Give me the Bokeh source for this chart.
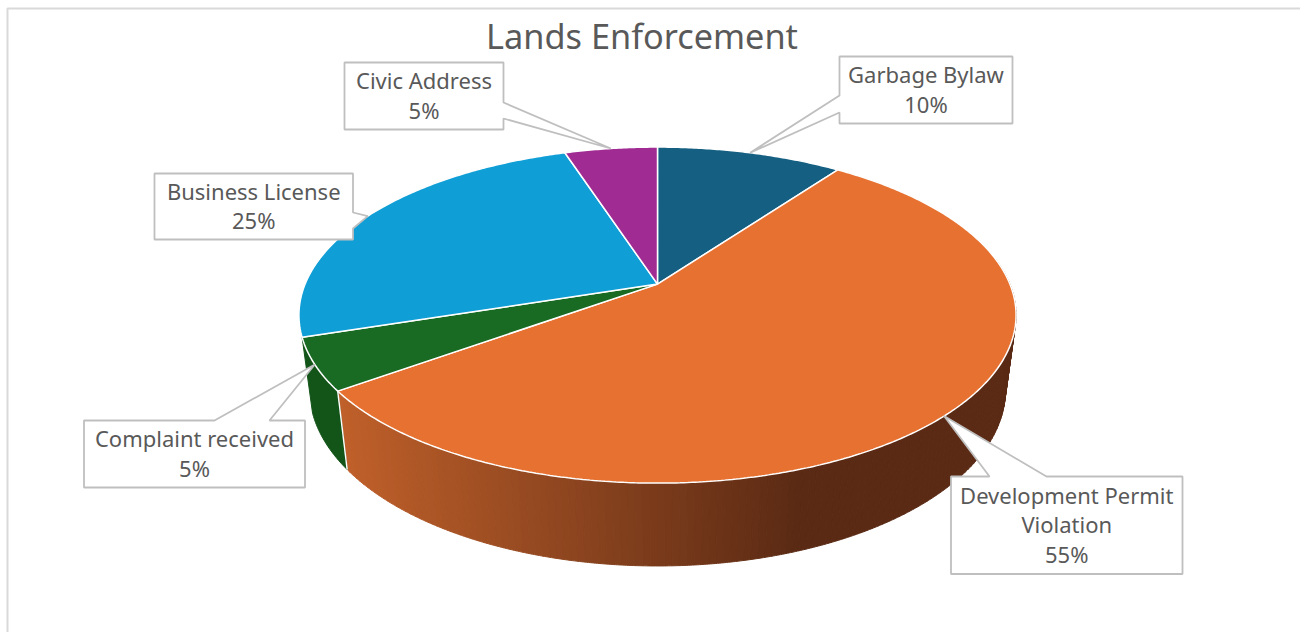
import numpy as np
from bokeh.core.properties import value
from bokeh.embed import file_html
from bokeh.models import Range1d
from bokeh.plotting import figure
from bokeh.resources import INLINE

# Slices, clockwise from twelve o'clock
categories = ["Garbage Bylaw", "Development Permit Violation", "Complaint received", "Business License", "Civic Address"]
shares = [10, 55, 5, 25, 5]
colors = ["#156082", "#E77131", "#196B24", "#0F9ED5", "#A02B93"]
label_lines = [["Garbage Bylaw"], ["Development Permit", "Violation"], ["Complaint received"], ["Business License"], ["Civic Address"]]
title = "Lands Enforcement"

FONT = "Noto Sans"
TEXT = "#595959"
EDGE = "#BFBFBF"

# Perspective disc: apex position, scale and tilt of the top and bottom faces
CX = 657.0
TOP = dict(y0=283.6, a=352.4, b=162.3, k=0.1845)
BOT = dict(y0=357.0, a=342.0, b=170.0, k=0.1845)

# Callout boxes: left, top, right, bottom and the edge the pointer leaves from
boxes = {
    "Garbage Bylaw": (839, 56, 1012, 123, "left", 95, 112),
    "Development Permit Violation": (950.5, 476, 1182, 573.5, "top", 989, 1046),
    "Complaint received": (83.5, 420, 304.5, 487, "top", 214, 269),
    "Business License": (154, 173, 352.5, 239, "right", 212, 228),
    "Civic Address": (344, 62, 503, 129, "right", 102, 118),
}


def project(deg, face):
    t = np.radians(deg)
    u, v = np.sin(t), np.cos(t)
    d = 1 + face["k"] * v
    return CX + face["a"] * u / d, face["y0"] - face["b"] * v / d


def arc(a, b, face, step=0.5):
    n = max(2, int(abs(b - a) / step) + 1)
    return project(np.linspace(a, b, n), face)


def wall_color(x):
    # Side of the large slice darkens from left to right, then stays flat
    f = min(max((x - 340) / (800 - 340), 0), 1)
    c0, c1 = (192, 96, 42), (90, 42, 20)
    return "#%02X%02X%02X" % tuple(round(p + (q - p) * f) for p, q in zip(c0, c1))


edges = np.concatenate([[0], np.cumsum(shares)]) * 3.6
spans = dict(zip(categories, zip(edges[:-1], edges[1:])))

p = figure(
    width=1300, height=632,
    x_range=Range1d(0, 1300), y_range=Range1d(632, 0),
    output_backend="svg", toolbar_location=None, min_border=0,
    outline_line_color=None, background_fill_color="white", border_fill_color="white",
)
p.axis.visible = False
p.grid.visible = False

# Chart frame, open on the right and at the bottom
p.line([7, 7, 1300], [632, 8, 8], line_color="#D9D9D9", line_width=2)

# Side wall of the large slice, as narrow vertical bands for the shading
dev_start, dev_end = spans["Development Permit Violation"]
wall_angles = np.arange(dev_end, dev_start + 44, -1.0)
for a0, a1 in zip(wall_angles[:-1], wall_angles[1:]):
    tx, ty = arc(a0, a1, TOP, 0.25)
    bx, by = arc(a1, a0, BOT, 0.25)
    col = wall_color((tx[0] + bx[0]) / 2)
    p.patch(np.concatenate([tx, bx]), np.concatenate([ty, by]), fill_color=col, line_color=col, line_width=1)

# Side wall of the complaint slice
c0, c1 = spans["Complaint received"]
tx, ty = arc(c0, c1, TOP)
bx, by = arc(c1, c0, BOT)
p.patch(np.concatenate([tx, bx]), np.concatenate([ty, by]), fill_color="#135419", line_color="#135419", line_width=1)

# Seam between the two walls
sx0, sy0 = project(dev_end, TOP)
sx1, sy1 = project(dev_end, BOT)
p.line([sx0, sx1], [sy0, sy1], line_color="white", line_width=1.4)

# Top face, every slice meeting at the projected centre of the disc
ax, ay = CX, TOP["y0"]
for name, col in zip(categories, colors):
    a0, a1 = spans[name]
    x, y = arc(a0, a1, TOP)
    p.patch(np.concatenate([[ax], x]), np.concatenate([[ay], y]), fill_color=col, line_color="white", line_width=1.5)

# Callouts with the pointer aimed at the middle of each slice's rim
for name, lines, share in zip(categories, label_lines, shares):
    l, t, r, b, side, e0, e1 = boxes[name]
    tipx, tipy = project(sum(spans[name]) / 2, TOP)
    if side == "left":
        xs = [l, r, r, l, l, tipx, l]
        ys = [t, t, b, b, e1, tipy, e0]
    elif side == "right":
        xs = [l, r, r, tipx, r, r, l]
        ys = [t, t, e0, tipy, e1, b, b]
    else:
        xs = [l, e0, tipx, e1, r, r, l]
        ys = [t, t, tipy, t, t, b, b]
    p.patch(xs, ys, fill_color="white", line_color=EDGE, line_width=1.8)

    rows = lines + [f"{share}%"]
    mid = (t + b) / 2 - 1
    ty = [mid + (i - (len(rows) - 1) / 2) * 29.5 for i in range(len(rows))]
    p.text([(l + r) / 2] * len(rows), ty, text=rows, text_align="center", text_baseline="middle",
           text_font=value(FONT), text_font_size="22px", text_color=TEXT)

p.text([641.5], [35], text=[title], text_align="center", text_baseline="middle",
       text_font=value(FONT), text_font_size="34.3px", text_color=TEXT)

open("out.html", "w").write(file_html(p, INLINE))
